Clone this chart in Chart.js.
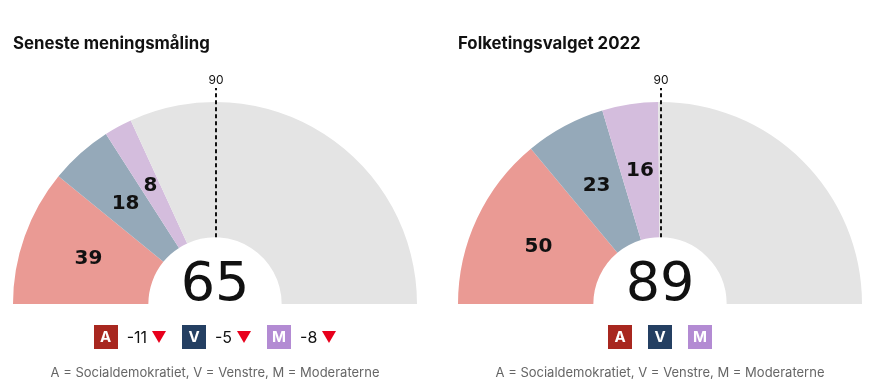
<!DOCTYPE html>
<html lang="da">
<head>
<meta charset="utf-8">
<title>Mandater</title>
<script src="https://cdn.jsdelivr.net/npm/chart.js@4.4.1/dist/chart.umd.min.js"></script>
<style>
    body { margin: 0; background: #fff; font-family: Inter, "Noto Sans", sans-serif; }
    #page { position: relative; width: 890px; height: 386px; overflow: hidden; }
    .panel { position: absolute; top: 0; width: 445px; height: 386px; }
    .panel canvas { position: absolute; left: 0; top: 0; }
    .title { position: absolute; left: 13px; top: 33px; font-size: 16.8px; font-weight: 700; color: #111; }
    .badges { position: absolute; left: 0; width: 430px; top: 325px; display: flex; justify-content: center; align-items: center; }
    .group { display: flex; align-items: center; margin: 0 8px; }
    .badge { width: 24px; height: 24px; color: #fff; font-weight: 700; font-size: 15px; line-height: 24px; text-align: center; }
    .change { margin-left: 9px; font-size: 16px; color: #111; }
    .down { margin-left: 5px; width: 0; height: 0; border-left: 7.5px solid transparent; border-right: 7.5px solid transparent; border-top: 12px solid #e8001c; }
    .footer { position: absolute; left: 0; width: 430px; top: 364px; text-align: center; font-size: 13px; color: #666; }
</style>
</head>
<body>
<div id="page">
    <div class="panel" style="left:0">
        <canvas id="pollChart" width="445" height="386"></canvas>
        <div class="title">Seneste meningsmåling</div>
        <div class="badges" id="pollBadges"></div>
        <div class="footer">A = Socialdemokratiet, V = Venstre, M = Moderaterne</div>
    </div>
    <div class="panel" style="left:445px">
        <canvas id="electionChart" width="445" height="386"></canvas>
        <div class="title">Folketingsvalget 2022</div>
        <div class="badges" id="electionBadges"></div>
        <div class="footer">A = Socialdemokratiet, V = Venstre, M = Moderaterne</div>
    </div>
</div>
<script>
// data
const partyLetters = ['A', 'V', 'M'];
const pollSeats = [39, 18, 8];
const electionSeats = [50, 23, 16];
const pollChange = [-11, -5, -8];
const totalSeats = 179;
const majority = 90;

const segmentColors = ['#EA9A94', '#95A9B9', '#D4BDDD', '#E4E4E4'];
const badgeColors = ['#A8271F', '#243F62', '#B38BD3'];

// labels, center sum and the 90-seat marker
const seatLabels = {
    id: 'seatLabels',
    afterDatasetsDraw(chart) {
        const ctx = chart.ctx;
        const meta = chart.getDatasetMeta(0);
        const seats = chart.data.datasets[0].data;
        const first = meta.data[0];
        const cx = first.x, cy = first.y;
        const inner = first.innerRadius, outer = first.outerRadius;

        ctx.save();
        ctx.textAlign = 'center';
        ctx.textBaseline = 'middle';
        ctx.fillStyle = '#111';
        ctx.font = '700 20px "DejaVu Sans", sans-serif';
        for (let i = 0; i < partyLetters.length; i++) {
            const p = meta.data[i].getCenterPoint();
            ctx.fillText(String(seats[i]), p.x, p.y);
        }

        // sum in the middle
        const sum = seats.slice(0, partyLetters.length).reduce((a, b) => a + b, 0);
        ctx.textBaseline = 'alphabetic';
        ctx.font = '400 54px "DejaVu Sans", sans-serif';
        ctx.fillText(String(sum), cx, cy - 4);

        // majority line
        const angle = -Math.PI + majority / totalSeats * Math.PI;
        const lx = Math.round(cx + Math.cos(angle) * inner);
        const top = cy - outer - 14;
        ctx.strokeStyle = '#111';
        ctx.lineWidth = 2;
        ctx.setLineDash([4, 3]);
        ctx.beginPath();
        ctx.moveTo(lx, cy - inner);
        ctx.lineTo(lx, top);
        ctx.stroke();
        ctx.font = '400 12px Inter, sans-serif';
        ctx.fillText(String(majority), lx, top - 4);
        ctx.restore();
    }
};

function createSeatChart(canvas, seats) {
    const rest = totalSeats - seats.reduce((a, b) => a + b, 0);
    return new Chart(canvas, {
        type: 'doughnut',
        data: {
            labels: partyLetters.concat(['Øvrige']),
            datasets: [{
                data: seats.concat([rest]),
                backgroundColor: segmentColors,
                borderWidth: 0
            }]
        },
        options: {
            responsive: false,
            animation: false,
            events: [],
            rotation: -90,
            circumference: 180,
            cutout: '33%',
            layout: {
                padding: { left: 13, right: 28, top: 102, bottom: 82 }
            },
            plugins: {
                legend: { display: false },
                tooltip: { enabled: false }
            }
        },
        plugins: [seatLabels]
    });
}

function buildBadges(container, changes) {
    partyLetters.forEach(function(letter, i) {
        const group = document.createElement('div');
        group.className = 'group';
        const badge = document.createElement('div');
        badge.className = 'badge';
        badge.style.background = badgeColors[i];
        badge.textContent = letter;
        group.appendChild(badge);
        if (changes) {
            const txt = document.createElement('span');
            txt.className = 'change';
            txt.textContent = String(changes[i]);
            group.appendChild(txt);
            if (changes[i] < 0) {
                const tri = document.createElement('span');
                tri.className = 'down';
                group.appendChild(tri);
            }
        }
        container.appendChild(group);
    });
}

createSeatChart(document.getElementById('pollChart'), pollSeats);
createSeatChart(document.getElementById('electionChart'), electionSeats);
buildBadges(document.getElementById('pollBadges'), pollChange);
buildBadges(document.getElementById('electionBadges'), null);
</script>
</body>
</html>
